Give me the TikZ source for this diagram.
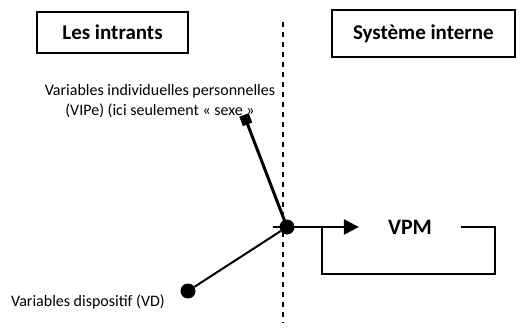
\documentclass[tikz,border=0pt]{standalone}
\usepackage{fontspec}
\setmainfont{Carlito}
\usetikzlibrary{arrows.meta}
\tikzset{>={Triangle[length=15pt,width=15pt]}}
\tikzset{
  titlebox/.style={draw, line width=2pt, font=\fontsize{21}{25}\selectfont\bfseries},
  bigdot/.style={circle, fill=black, inner sep=0pt, minimum size=15pt},
  smalltext/.style={font=\fontsize{16}{20}\selectfont}
}
\begin{document}
\begin{tikzpicture}[x=1pt, y=-1pt]
        \def\midx{283}
        \def\looplow{274}
        \useasboundingbox (0,0) rectangle (520,329);

        %boundary
        \draw[line width=1.5pt, dash pattern=on 5pt off 5pt] (\midx,22) -- (\midx,323);

        %titles
        \node[titlebox, minimum width=151pt, minimum height=41pt] (intrants) at (112.5,32.5) {Les intrants};
        \node[titlebox, anchor=west, minimum height=47pt, inner xsep=21pt] (interne) at (331,33.5) {Système interne\hspace{24pt}};

        %inputs
        \node[bigdot] (mix) at (287,227) {};
        \node[bigdot] (vd) at (188,291) {};
        \coordinate (vipe) at (244,115);
        \node[smalltext, align=center] (vipetxt) at (160,101) {Variables individuelles personnelles\\(VIPe) (ici seulement « sexe »};
        \node[smalltext] (vdtxt) at (88,302) {Variables dispositif (VD)};

        %output
        \node[font=\fontsize{22}{26}\selectfont\bfseries, inner xsep=29pt, inner ysep=0pt] (vpm) at (410,227) {VPM};
        \coordinate (loopr) at (495,\looplow);
        \coordinate (loopl) at (322,\looplow);
        \coordinate (back) at (273,227);

        %loop
        \draw[line width=1.5pt] (vpm.east) -| (loopr) -- (loopl) |- (back);

        %links
        \draw[line width=3pt, {Square[length=10pt,width=10pt]}-] (vipe) -- (mix.center);
        \draw[line width=2pt] (vd) -- (mix);
        \draw[->, line width=2.5pt] (mix) -- (vpm.west);
\end{tikzpicture}
\end{document}
